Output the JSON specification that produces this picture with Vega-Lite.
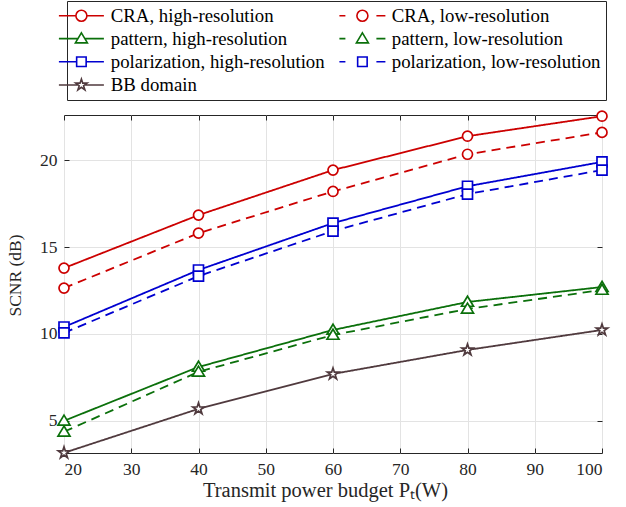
{
  "$schema": "https://vega.github.io/schema/vega-lite/v6.json",
  "width": 538,
  "height": 338,
  "autosize": "none",
  "padding": {"left": 64, "top": 115, "right": 24, "bottom": 54},
  "background": "white",
  "config": {
    "view": {"stroke": "#262626", "strokeWidth": 1},
    "font": "Liberation Serif, Times New Roman, serif",
    "axis": {
      "labelFont": "Liberation Serif, Times New Roman, serif",
      "labelFontSize": 17.5,
      "labelColor": "#262626",
      "titleFont": "Liberation Serif, Times New Roman, serif",
      "titleFontWeight": "normal",
      "titleColor": "#262626",
      "domain": false,
      "tickColor": "#262626",
      "tickSize": -5,
      "gridColor": "#e3e3e3",
      "gridWidth": 1
    }
  },
  "data": {
    "values": [
      {"power": 20, "scnr": 13.79, "series": "CRA, high-resolution"},
      {"power": 40, "scnr": 16.84, "series": "CRA, high-resolution"},
      {"power": 60, "scnr": 19.43, "series": "CRA, high-resolution"},
      {"power": 80, "scnr": 21.38, "series": "CRA, high-resolution"},
      {"power": 100, "scnr": 22.53, "series": "CRA, high-resolution"},
      {"power": 20, "scnr": 12.64, "series": "CRA, low-resolution"},
      {"power": 40, "scnr": 15.8, "series": "CRA, low-resolution"},
      {"power": 60, "scnr": 18.2, "series": "CRA, low-resolution"},
      {"power": 80, "scnr": 20.34, "series": "CRA, low-resolution"},
      {"power": 100, "scnr": 21.6, "series": "CRA, low-resolution"},
      {"power": 20, "scnr": 5.0, "series": "pattern, high-resolution"},
      {"power": 40, "scnr": 8.1, "series": "pattern, high-resolution"},
      {"power": 60, "scnr": 10.23, "series": "pattern, high-resolution"},
      {"power": 80, "scnr": 11.84, "series": "pattern, high-resolution"},
      {"power": 100, "scnr": 12.7, "series": "pattern, high-resolution"},
      {"power": 20, "scnr": 4.37, "series": "pattern, low-resolution"},
      {"power": 40, "scnr": 7.82, "series": "pattern, low-resolution"},
      {"power": 60, "scnr": 9.94, "series": "pattern, low-resolution"},
      {"power": 80, "scnr": 11.44, "series": "pattern, low-resolution"},
      {"power": 100, "scnr": 12.53, "series": "pattern, low-resolution"},
      {"power": 20, "scnr": 10.4, "series": "polarization, high-resolution"},
      {"power": 40, "scnr": 13.68, "series": "polarization, high-resolution"},
      {"power": 60, "scnr": 16.38, "series": "polarization, high-resolution"},
      {"power": 80, "scnr": 18.5, "series": "polarization, high-resolution"},
      {"power": 100, "scnr": 19.9, "series": "polarization, high-resolution"},
      {"power": 20, "scnr": 10.06, "series": "polarization, low-resolution"},
      {"power": 40, "scnr": 13.33, "series": "polarization, low-resolution"},
      {"power": 60, "scnr": 15.92, "series": "polarization, low-resolution"},
      {"power": 80, "scnr": 18.05, "series": "polarization, low-resolution"},
      {"power": 100, "scnr": 19.43, "series": "polarization, low-resolution"},
      {"power": 20, "scnr": 3.16, "series": "BB domain"},
      {"power": 40, "scnr": 5.69, "series": "BB domain"},
      {"power": 60, "scnr": 7.7, "series": "BB domain"},
      {"power": 80, "scnr": 9.08, "series": "BB domain"},
      {"power": 100, "scnr": 10.23, "series": "BB domain"}
    ]
  },
  "encoding": {
    "color": {
      "field": "series",
      "type": "nominal",
      "scale": {
        "domain": ["CRA, high-resolution", "CRA, low-resolution", "pattern, high-resolution", "pattern, low-resolution", "polarization, high-resolution", "polarization, low-resolution", "BB domain"],
        "range": ["#cc0000", "#cc0000", "#0b700b", "#0b700b", "#0000d0", "#0000d0", "#503a3e"]
      },
      "legend": null
    }
  },
  "layer": [
    {
      "mark": {"type": "line", "strokeWidth": 1.8},
      "encoding": {
        "x": {
          "field": "power",
          "type": "quantitative",
          "scale": {"domain": [20, 100], "nice": false, "zero": false},
          "axis": {"values": [20, 30, 40, 50, 60, 70, 80, 90, 100], "title": "Transmit power budget Pₜ(W)", "titleFontSize": 20.5, "ticks": false, "labelPadding": 7, "titlePadding": 3, "titleX": 261}
        },
        "y": {
          "field": "scnr",
          "type": "quantitative",
          "scale": {"domain": [3.15, 22.6], "nice": false, "zero": false},
          "axis": {"values": [5, 10, 15, 20], "title": "SCNR (dB)", "titleFontSize": 17.5, "ticks": false, "labelPadding": 7, "titleX": -40, "titleY": 160}
        },
        "strokeDash": {
          "field": "series",
          "type": "nominal",
          "scale": {
            "domain": ["CRA, high-resolution", "CRA, low-resolution", "pattern, high-resolution", "pattern, low-resolution", "polarization, high-resolution", "polarization, low-resolution", "BB domain"],
            "range": [[1, 0], [9, 6], [1, 0], [9, 6], [1, 0], [9, 6], [1, 0]]
          },
          "legend": null
        }
      }
    },
    {
      "mark": {"type": "point", "filled": false, "fill": "white", "fillOpacity": 1, "opacity": 1, "strokeWidth": 1.7, "size": 100},
      "encoding": {
        "x": {
          "field": "power",
          "type": "quantitative",
          "axis": {"orient": "top", "values": [20, 30, 40, 50, 60, 70, 80, 90, 100], "labels": false, "title": null, "grid": false}
        },
        "y": {
          "field": "scnr",
          "type": "quantitative",
          "axis": {"orient": "right", "values": [5, 10, 15, 20], "labels": false, "title": null, "grid": false}
        },
        "shape": {
          "field": "series",
          "type": "nominal",
          "scale": {
            "domain": ["CRA, high-resolution", "CRA, low-resolution", "pattern, high-resolution", "pattern, low-resolution", "polarization, high-resolution", "polarization, low-resolution", "BB domain"],
            "range": ["circle", "circle", "M0,-1.15L1.2,0.85L-1.2,0.85Z", "M0,-1.15L1.2,0.85L-1.2,0.85Z", "square", "square", "M0,-1.2L0.2694,-0.3708L1.1413,-0.3708L0.436,0.1416L0.7054,0.9708L0,0.4584L-0.7054,0.9708L-0.436,0.1416L-1.1413,-0.3708L-0.2694,-0.3708Z"]
          },
          "legend": null
        }
      }
    },
    {
      "transform": [{"filter": "datum.power < 0"}],
      "mark": {"type": "point", "filled": false, "strokeWidth": 1.6, "size": 100},
      "encoding": {
        "x": {"field": "power", "type": "quantitative", "axis": {"orient": "bottom", "values": [20, 30, 40, 50, 60, 70, 80, 90, 100], "labels": false, "title": null, "grid": false}},
        "y": {"field": "scnr", "type": "quantitative", "axis": {"orient": "left", "values": [5, 10, 15, 20], "labels": false, "title": null, "grid": false}},
        "color": {
          "field": "series",
          "type": "nominal",
          "legend": {
            "title": null,
            "orient": "none",
            "legendX": 3,
            "legendY": -114,
            "direction": "horizontal",
            "columns": 2,
            "columnPadding": 9,
            "rowPadding": 3.2,
            "padding": 5,
            "labelFont": "Liberation Serif, Times New Roman, serif",
            "labelFontSize": 18.8,
            "labelColor": "#000000",
            "labelLimit": 400,
            "labelOffset": 20,
            "symbolSize": 100,
            "symbolOpacity": 1,
            "symbolStrokeWidth": 1.6,
            "strokeColor": "#262626",
            "fillColor": "white"
          }
        },
        "shape": {
          "field": "series",
          "type": "nominal",
          "scale": {
            "domain": ["CRA, high-resolution", "CRA, low-resolution", "pattern, high-resolution", "pattern, low-resolution", "polarization, high-resolution", "polarization, low-resolution", "BB domain"],
            "range": [
              "M-5.04,0L-5.04,0M-4.5,0L-1.1,0M1.1,0L4.5,0M-1.1,0A1.1,1.1,0,1,0,1.1,0A1.1,1.1,0,1,0,-1.1,0Z",
              "M-5.04,0L-5.04,0M-4.6,0L-3.4,0M2.8,0L4.6,0M-1.1,0A1.1,1.1,0,1,0,1.1,0A1.1,1.1,0,1,0,-1.1,0Z",
              "M-5.04,0L-5.04,0M-4.5,0L-0.7,0M0.7,0L4.5,0M0,-1.15L1.2,0.85L-1.2,0.85Z",
              "M-5.04,0L-5.04,0M-4.6,0L-3.4,0M2.8,0L4.6,0M0,-1.15L1.2,0.85L-1.2,0.85Z",
              "M-5.04,0L-5.04,0M-4.5,0L-0.95,0M0.95,0L4.5,0M-0.95,-0.95L0.95,-0.95L0.95,0.95L-0.95,0.95Z",
              "M-5.04,0L-5.04,0M-4.6,0L-3.4,0M2.8,0L4.6,0M-0.95,-0.95L0.95,-0.95L0.95,0.95L-0.95,0.95Z",
              "M-5.04,0L-5.04,0M-4.5,0L-0.63,0M0.63,0L4.5,0M0,-1.2L0.2694,-0.3708L1.1413,-0.3708L0.436,0.1416L0.7054,0.9708L0,0.4584L-0.7054,0.9708L-0.436,0.1416L-1.1413,-0.3708L-0.2694,-0.3708Z"
            ]
          },
          "legend": {
            "title": null,
            "orient": "none",
            "legendX": 3,
            "legendY": -114,
            "direction": "horizontal",
            "columns": 2,
            "columnPadding": 9,
            "rowPadding": 3.2,
            "padding": 5,
            "labelFont": "Liberation Serif, Times New Roman, serif",
            "labelFontSize": 18.8,
            "labelColor": "#000000",
            "labelLimit": 400,
            "labelOffset": 20,
            "symbolSize": 100,
            "symbolOpacity": 1,
            "symbolStrokeWidth": 1.6,
            "strokeColor": "#262626",
            "fillColor": "white"
          }
        }
      }
    }
  ],
  "resolve": {"axis": {"x": "independent", "y": "independent"}, "scale": {"shape": "independent"}, "legend": {"shape": "independent", "color": "independent"}}
}
